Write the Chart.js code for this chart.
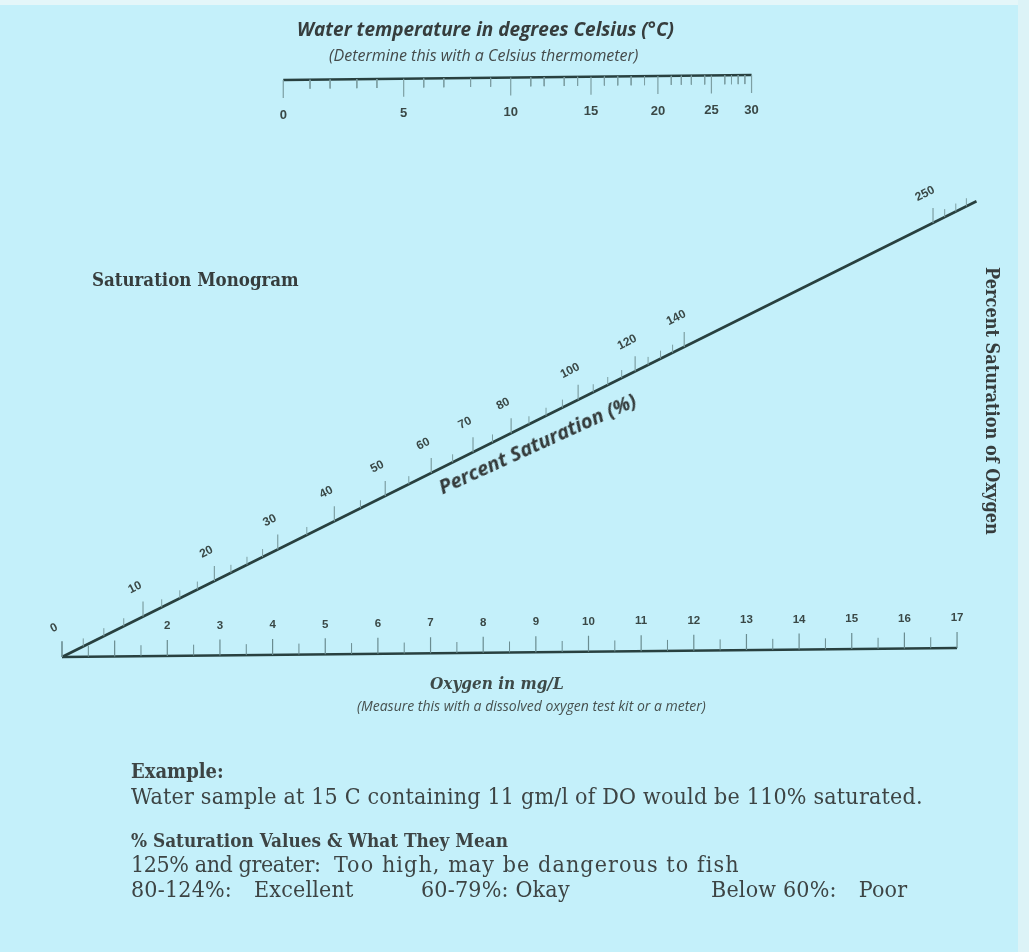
<!DOCTYPE html>
<html>
<head>
<meta charset="utf-8">
<script src="https://cdn.jsdelivr.net/npm/chart.js@4.4.1/dist/chart.umd.min.js"></script>
<style>
html,body{margin:0;padding:0;}
body{width:1029px;height:952px;background:#c4f0fa;position:relative;overflow:hidden;}
#edgeR{position:absolute;left:1018px;top:0;width:11px;height:952px;background:#dcf3f7;}
#edgeT{position:absolute;left:0;top:0;width:1029px;height:5px;background:#e4f6f9;}
canvas{position:absolute;left:0;top:0;}
.t{position:absolute;white-space:nowrap;line-height:1;color:#363d3d;}
#t1{left:297px;top:16px;font:italic 700 19px "Open Sans", sans-serif;}
#t2{left:329px;top:44px;font:italic 400 16px "Open Sans", sans-serif;color:#444a4a;}
#sat{left:92px;top:269px;font:700 18.5px "DejaVu Serif Condensed", "DejaVu Serif", serif;}
#right{left:983px;top:267px;font:700 18px "DejaVu Serif Condensed", "DejaVu Serif", serif;transform-origin:0 0;transform:translateX(20px) rotate(90deg);}
#oxy{left:430px;top:673px;font:italic 700 17px "DejaVu Serif Condensed", "DejaVu Serif", serif;color:#3e4a48;}
#oxy2{left:357px;top:696px;font:italic 400 14px "Open Sans", sans-serif;color:#46504e;}
#pct{left:445px;top:473px;font:italic 700 20px "Open Sans", sans-serif;color:#333a3a;transform-origin:0 100%;transform:rotate(-24.5deg);}
.n{font:400 23px "DejaVu Serif Condensed", "DejaVu Serif", serif;color:#3d4444;left:131px;letter-spacing:0.2px;}
.b{font-weight:700;letter-spacing:0;}
#ex{top:759px;font-size:20px;}
#ex2{top:783px;}
#sv{top:829px;font-size:18.8px;}
#sv2a{top:851px;letter-spacing:-0.4px;}
#sv2b{top:851px;left:334px;letter-spacing:1.1px;}
#sv3{top:876px;}
#sv4{top:876px;left:421px;}
#sv5{top:876px;left:711px;}
.gap{display:inline-block;width:22px;}
</style>
</head>
<body>
<div id="edgeT"></div>
<div id="edgeR"></div>
<canvas id="c" width="1029" height="952"></canvas>
<div class="t" id="t1">Water temperature in degrees Celsius (°C)</div>
<div class="t" id="t2">(Determine this with a Celsius thermometer)</div>
<div class="t" id="sat">Saturation Monogram</div>
<div class="t" id="right">Percent Saturation of Oxygen</div>
<div class="t" id="pct">Percent Saturation (%)</div>
<div class="t" id="oxy">Oxygen in mg/L</div>
<div class="t" id="oxy2">(Measure this with a dissolved oxygen test kit or a meter)</div>
<div class="t n b" id="ex">Example:</div>
<div class="t n" id="ex2">Water sample at 15 C containing 11 gm/l of DO would be 110% saturated.</div>
<div class="t n b" id="sv">% Saturation Values &amp; What They Mean</div>
<div class="t n" id="sv2a">125% and greater:</div>
<div class="t n" id="sv2b">Too high, may be dangerous to fish</div>
<div class="t n" id="sv3">80-124%:<span class="gap"></span>Excellent</div>
<div class="t n" id="sv4">60-79%: Okay</div>
<div class="t n" id="sv5">Below 60%:<span class="gap"></span>Poor</div>
<script>
// ---------------- DATA ----------------
// Temperature scale: one tick per degree C, placed by the dissolved-oxygen
// concentration at 100% saturation (mg/L) that each temperature stands for.
const temperatureC = [0,1,2,3,4,5,6,7,8,9,10,11,12,13,14,15,16,17,18,19,20,21,22,23,24,25,26,27,28,29,30];
const doSaturation = [14.6,14.2,13.9,13.5,13.2,12.8,12.5,12.2,11.8,11.5,11.2,10.9,10.7,10.4,10.2,10.0,9.8,9.6,9.4,9.2,9.0,8.8,8.65,8.5,8.3,8.2,8.0,7.9,7.8,7.7,7.6];
const temperatureLabels = [0,5,10,15,20,25,30];

// Oxygen scale (mg/L)
const oxygenMajor = [0,1,2,3,4,5,6,7,8,9,10,11,12,13,14,15,16,17];
const oxygenMinor = [0.5,1.5,2.5,3.5,4.5,5.5,6.5,7.5,8.5,9.5,10.5,11.5,12.5,13.5,14.5,15.5,16.5];
const oxygenLabels = [2,3,4,5,6,7,8,9,10,11,12,13,14,15,16,17];

// Percent saturation scale
const percentLabels = [0,10,20,30,40,50,60,70,80,100,120,140,250];
const percentMinor = [2.5,5,7.5,12.5,15,17.5,22.5,25,27.5,35,45,55,65,75,85,90,95,105,110,115,125,130,135,260,270,280];
const percentLineEnd = 290;

// ---------------- LAYOUT (nomogram geometry in canvas units) ----------------
const G = {
  topPoleX: 1260, topK: 66.9, topY0: 80, topX0: 283, topSlope: -5/469,
  botX0: 62, botY0: 657, botK: 52.65, botSlope: -9/895,
  diagSlope: -0.4984, diagL: 1280, diagK: 148, breakAt: 140, breakShift: 67,
  tickMajTop: 18, tickMinTop: 9, tickMajBot: 16, tickMinBot: 11, tickMajDiag: 15, tickMinDiag: 8
};
function topPt(sat){ const x = G.topPoleX - G.topK*sat; return {x, y: G.topY0 + (x - G.topX0)*G.topSlope}; }
function botPt(o){ const x = G.botX0 + G.botK*o; return {x, y: G.botY0 + (x - G.botX0)*G.botSlope}; }
function diagPt(p){
  let s = G.diagL*p/(G.diagK + p);
  if (p > G.breakAt) s += G.breakShift;
  return {x: G.botX0 + s, y: G.botY0 + G.diagSlope*s};
}
function segs(points, dy){
  const out = [];
  points.forEach(p => { out.push({x:p.x, y:p.y}); out.push({x:p.x, y:p.y + dy}); out.push({x:p.x, y:null}); });
  return out;
}

const LINE = '#28403f';
const TICK = '#7d9fa3';
const TICK_D = '#6a8c90';

const topMajor = temperatureC.map((t,i)=>({t,i})).filter(o=>temperatureLabels.includes(o.t)).map(o=>topPt(doSaturation[o.i]));
const topMinor = temperatureC.map((t,i)=>({t,i})).filter(o=>!temperatureLabels.includes(o.t)).map(o=>topPt(doSaturation[o.i]));

const datasets = [
  {data: segs(topMinor, G.tickMinTop), borderColor: TICK, borderWidth: 1},
  {data: segs(topMajor, G.tickMajTop), borderColor: TICK, borderWidth: 1.2},
  {data: segs(oxygenMinor.map(botPt), -G.tickMinBot), borderColor: TICK_D, borderWidth: 1},
  {data: segs(oxygenMajor.map(botPt), -G.tickMajBot), borderColor: TICK_D, borderWidth: 1.2},
  {data: segs(percentMinor.map(diagPt), -G.tickMinDiag), borderColor: TICK, borderWidth: 1},
  {data: segs(percentLabels.map(diagPt), -G.tickMajDiag), borderColor: TICK, borderWidth: 1.2},
  {data: [topPt(doSaturation[0]), topPt(doSaturation[doSaturation.length-1])], borderColor: LINE, borderWidth: 2.6},
  {data: [botPt(oxygenMajor[0]), botPt(oxygenMajor[oxygenMajor.length-1])], borderColor: LINE, borderWidth: 2.6},
  {data: [diagPt(0), diagPt(percentLineEnd)], borderColor: LINE, borderWidth: 2.6}
].map(d => Object.assign({showLine: true, pointRadius: 0, spanGaps: false, tension: 0, borderCapStyle: 'butt'}, d));

const labelPlugin = {
  id: 'scaleLabels',
  afterDatasetsDraw(chart){
    const ctx = chart.ctx, sx = chart.scales.x, sy = chart.scales.y;
    const P = pt => ({x: sx.getPixelForValue(pt.x), y: sy.getPixelForValue(pt.y)});
    ctx.save();
    ctx.fillStyle = '#3a4846';
    ctx.textAlign = 'center';
    ctx.textBaseline = 'middle';
    // temperature labels
    ctx.font = '700 13px "Liberation Sans", Arial, sans-serif';
    temperatureLabels.forEach(t => {
      const p = P(topPt(doSaturation[temperatureC.indexOf(t)]));
      ctx.fillText(String(t), p.x, p.y + 35);
    });
    // oxygen labels
    ctx.font = '700 11.5px "Liberation Sans", Arial, sans-serif';
    oxygenLabels.forEach(o => {
      const p = P(botPt(o));
      ctx.fillText(String(o), p.x, p.y - 30);
    });
    // percent labels (rotated along the saturation line)
    const a = P(diagPt(0)), b = P(diagPt(percentLineEnd));
    const ang = Math.atan2(b.y - a.y, b.x - a.x);
    ctx.font = '700 12px "Liberation Sans", Arial, sans-serif';
    percentLabels.forEach(v => {
      const p = P(diagPt(v));
      ctx.save();
      ctx.translate(p.x - 8, p.y - 29);
      ctx.rotate(ang);
      ctx.fillText(String(v), 0, 0);
      ctx.restore();
    });
    ctx.restore();
  }
};

new Chart(document.getElementById('c').getContext('2d'), {
  type: 'scatter',
  data: {datasets},
  options: {
    responsive: false,
    animation: false,
    events: [],
    layout: {padding: 0},
    plugins: {legend: {display: false}, tooltip: {enabled: false}, title: {display: false}},
    scales: {
      x: {type: 'linear', min: 0, max: 1029, display: false},
      y: {type: 'linear', min: 0, max: 952, reverse: true, display: false}
    }
  },
  plugins: [labelPlugin]
});
</script>
</body>
</html>
